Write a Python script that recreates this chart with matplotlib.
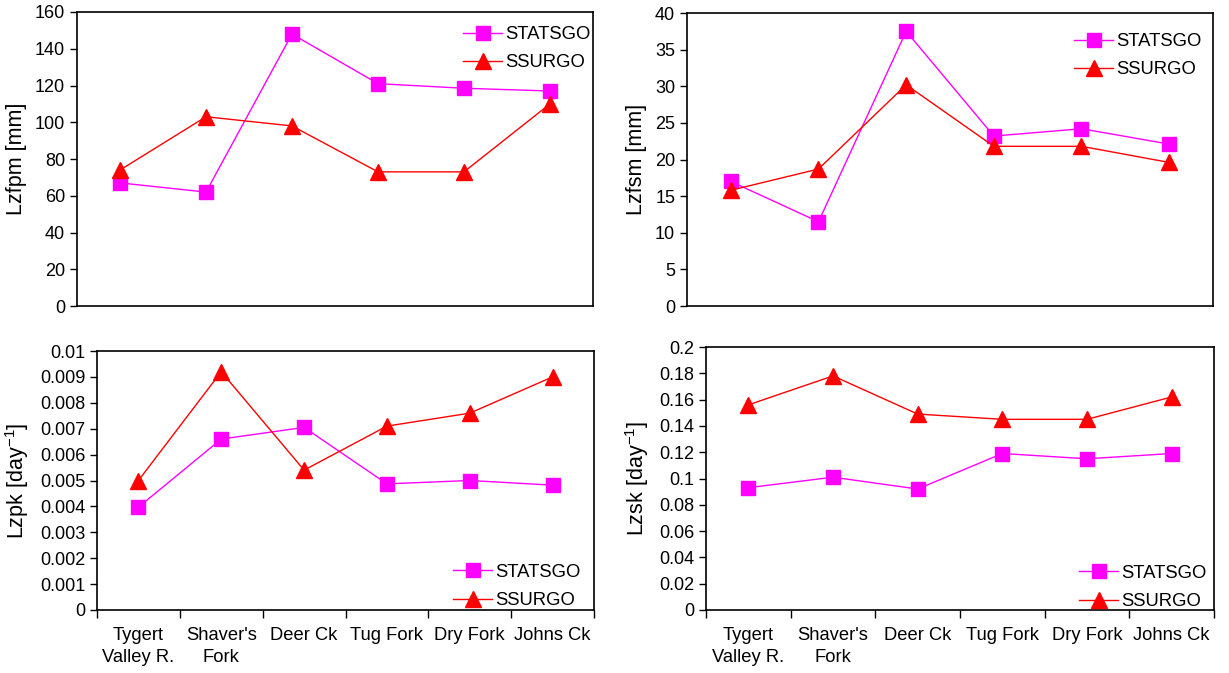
import numpy as np
import matplotlib.pyplot as plt
from matplotlib.ticker import FixedLocator, FormatStrFormatter, NullFormatter

plt.rcParams['font.family'] = ['Liberation Sans', 'DejaVu Sans']

# Data
sites = ["Tygert\nValley R.", "Shaver's\nFork", "Deer Ck", "Tug Fork", "Dry Fork", "Johns Ck"]

lzfpm_statsgo = [67, 62, 148, 121, 118.5, 117]
lzfpm_ssurgo = [74, 103, 98, 73, 73, 110]

lzfsm_statsgo = [17, 11.5, 37.5, 23.2, 24.2, 22.1]
lzfsm_ssurgo = [15.8, 18.7, 30.2, 21.8, 21.8, 19.6]

lzpk_statsgo = [0.00397, 0.0066, 0.00705, 0.00487, 0.0050, 0.00482]
lzpk_ssurgo = [0.0050, 0.0092, 0.0054, 0.0071, 0.0076, 0.0090]

lzsk_statsgo = [0.093, 0.101, 0.092, 0.119, 0.115, 0.119]
lzsk_ssurgo = [0.156, 0.178, 0.149, 0.145, 0.145, 0.162]

W, H = 1229, 673


def rect(x0, y0, x1, y1):
    # pixel box (top-left origin) -> figure fraction
    return [x0 / W, (H - y1) / H, (x1 - x0) / W, (y1 - y0) / H]


panels = [
    # box, statsgo, ssurgo, ylabel, ymax, ystep, legend loc, legend anchor px, x labels
    (rect(77, 12, 593, 306), lzfpm_statsgo, lzfpm_ssurgo,
     "Lzfpm [mm]", 160, 20, 'upper right', (591, 26), False),
    (rect(687, 13, 1213, 306), lzfsm_statsgo, lzfsm_ssurgo,
     "Lzfsm [mm]", 40, 5, 'upper right', (1202, 33), False),
    (rect(97, 351, 594, 610), lzpk_statsgo, lzpk_ssurgo,
     "Lzpk [day$^{\\mathregular{-1}}$]", 0.01, 0.001, 'lower right', (581, 609), True),
    (rect(706, 347, 1214, 610), lzsk_statsgo, lzsk_ssurgo,
     "Lzsk [day$^{\\mathregular{-1}}$]", 0.2, 0.02, 'lower right', (1207, 610), True),
]

fig = plt.figure(figsize=(W / 100, H / 100), dpi=100)
x = np.arange(len(sites))

for box, stat, ssur, ylab, ymax, ystep, loc, anchor, xlab in panels:
    ax = fig.add_axes(box)
    ax.plot(x, stat, '-', color='#FF00FF', lw=1.0, marker='s', ms=10,
            mfc='#FF00FF', mec='#FF00FF', label='STATSGO')
    ax.plot(x, ssur, '-', color='#FF0000', lw=1.0, marker='^', ms=11,
            mfc='#FF0000', mec='#FF0000', label='SSURGO')
    ax.set_xlim(-0.5, len(sites) - 0.5)
    ax.set_ylim(0, ymax)
    ax.yaxis.set_major_locator(FixedLocator(np.arange(0, ymax + ystep / 2, ystep)))
    ax.yaxis.set_major_formatter(FormatStrFormatter('%g'))
    ax.set_ylabel(ylab, fontsize=15.5, labelpad=6)
    ax.tick_params(axis='y', labelsize=13, length=5, width=1, direction='out')
    if xlab:
        ax.xaxis.set_major_locator(FixedLocator(np.arange(-0.5, len(sites), 1.0)))
        ax.xaxis.set_major_formatter(NullFormatter())
        ax.xaxis.set_minor_locator(FixedLocator(x))
        ax.set_xticklabels(sites, minor=True, linespacing=1.4)
        ax.tick_params(axis='x', which='major', length=6, width=1, direction='out')
        ax.tick_params(axis='x', which='minor', length=0, labelsize=13.2, pad=12)
    else:
        ax.set_xticks([])
    for s in ax.spines.values():
        s.set_linewidth(1.2)
    ax.legend(loc=loc, bbox_to_anchor=(anchor[0] / W, (H - anchor[1]) / H),
              bbox_transform=fig.transFigure, frameon=False, fontsize=13.3,
              handlelength=2.1, handletextpad=0.2, borderpad=0,
              borderaxespad=0, labelspacing=0.6)

fig.savefig('out.png', dpi=100)
